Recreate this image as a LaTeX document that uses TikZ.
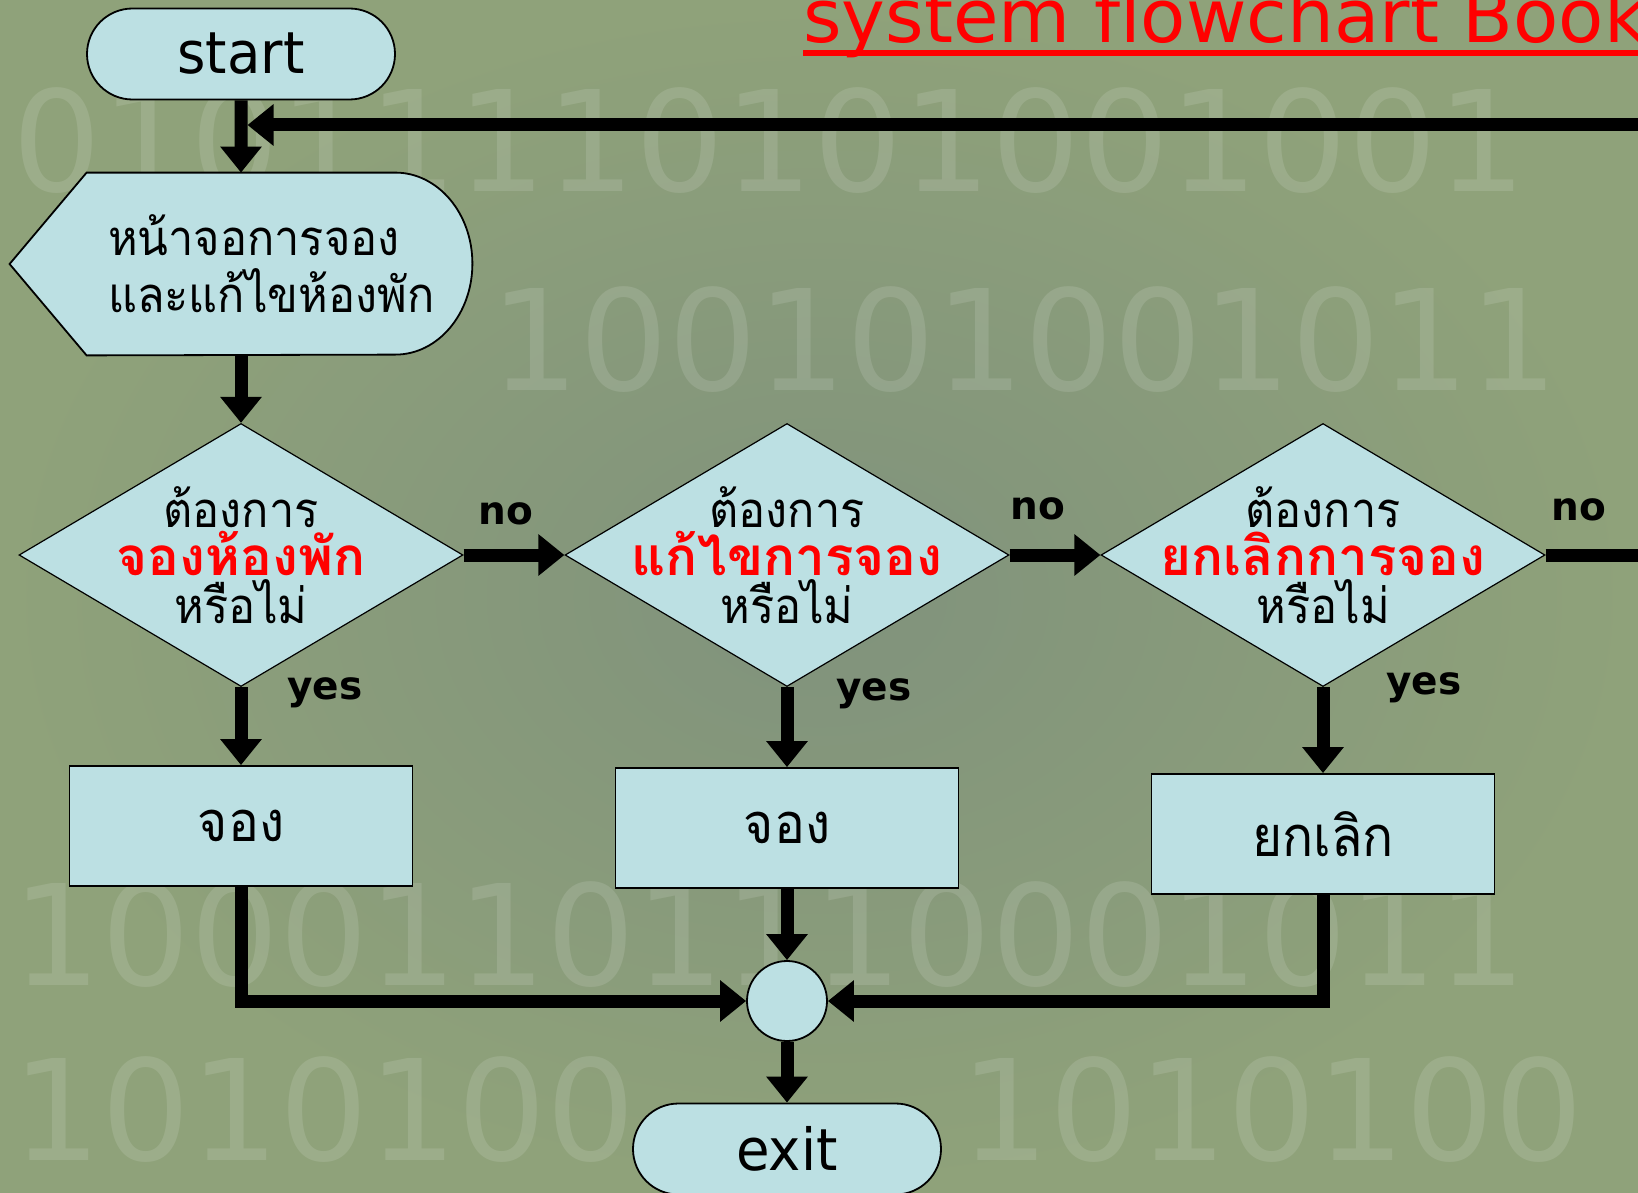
\documentclass[tikz,border=0pt]{standalone}
\usepackage{fontspec}
\setmainfont{DejaVu Sans}
\newfontfamily\thaifont[Script=Thai, FakeStretch=0.92, BoldFeatures={FakeStretch=1.0}]{Loma}
\newfontfamily\termfont[FakeStretch=0.94]{DejaVu Sans}
\usetikzlibrary{shapes, arrows.meta, positioning}

\definecolor{cyanfill}{RGB}{188,224,227}
\definecolor{bgouter}{RGB}{143,162,122}
\definecolor{bginner}{RGB}{128,146,124}

\newcommand{\hot}[1]{{\color{red}\bfseries\fontsize{26.5pt}{24pt}\selectfont #1}}

\tikzstyle{->}    = [line width=6.5pt, -{Triangle[length=13pt,width=20pt]}]
\tikzstyle{term}  = [draw, rounded rectangle, fill=cyanfill, line width=0.9pt, minimum width=154pt, minimum height=45.5pt, inner sep=0pt, font=\termfont\fontsize{29pt}{34pt}\selectfont]
\tikzstyle{disp}  = [draw=none, minimum width=154pt, minimum height=91pt, inner sep=0pt]
\tikzstyle{q}     = [draw, diamond, fill=cyanfill, line width=0.6pt, minimum width=222pt, minimum height=131.5pt, inner sep=0pt]
\tikzstyle{box}   = [draw, rectangle, fill=cyanfill, line width=0.9pt, minimum width=171.5pt, minimum height=60pt, font=\thaifont\fontsize{28pt}{32pt}\selectfont]
\tikzstyle{o}     = [draw, circle, fill=cyanfill, line width=0.9pt, minimum size=40pt, inner sep=0pt]
\tikzstyle{th}    = [inner sep=0pt, align=center, font=\thaifont\fontsize{24.5pt}{24pt}\selectfont]
\tikzstyle{lbl}   = [inner sep=0pt, font=\bfseries\fontsize{19.5pt}{22pt}\selectfont]
\tikzstyle{bits}  = [anchor=west, inner sep=0pt, text=white, opacity=0.12, font=\fontsize{70pt}{70pt}\selectfont]

\begin{document}
\begin{tikzpicture}[x=0.5pt, y=-0.5pt]

% page and background
\useasboundingbox (0,0) rectangle (1638,1193);
\clip (0,0) rectangle (1638,1193);
\shade [inner color=bginner, outer color=bgouter] (0,0) rectangle (1638,1193);
\node [bits] (bitsa)  at (12,141)   {01011110101001001};
\node [bits] (bitsb)  at (490,340)  {100101001011};
\node [bits] (bitsc)  at (12,935)   {10001101110001011};
\node [bits] (bitsd)  at (12,1110)  {1010100};
\node [bits] (bitsd2) at (960,1110) {1010100};

% title
\node [anchor=base west, inner sep=0pt, text=red, font=\fontsize{37pt}{40pt}\selectfont] (title) at (803,43) {system flowchart Book};
\draw [red, line width=3pt] ([yshift=-5pt]title.base west) -- ([yshift=-5pt]title.base east);

%pivotal nodes
\node [term                               ]  (start) at (241,54) {start};
\node [disp, below of=start, node distance=105pt]  (disp) {};
\path [draw, fill=cyanfill, line width=0.9pt] (disp.north west) -- (disp.north east)
      arc [start angle=90, end angle=-90, x radius=38.5pt, y radius=45.5pt]
      -- (disp.south west) -- ([xshift=-38.5pt]disp.west) -- cycle;
\node [th, align=left, anchor=west, font=\thaifont\fontsize{24.5pt}{28.5pt}\selectfont] (disptext) at ([xshift=10.5pt]disp.west) {หน้าจอการจอง\\และแก้ไขห้องพัก};

% questions
\node [q, below of=disp, node distance=145.5pt]  (q1) {};
\node [q, right of=q1,   node distance=273pt  ]  (q2) {};
\node [q, right of=q2,   node distance=268pt  ]  (q3) {};
\node [th] (q1text) at (q1) {ต้องการ\\\hot{จองห้องพัก}\\หรือไม่};
\node [th] (q2text) at (q2) {ต้องการ\\\hot{แก้ไขการจอง}\\หรือไม่};
\node [th] (q3text) at (q3) {ต้องการ\\\hot{ยกเลิกการจอง}\\หรือไม่};

% answers
\node [box, below of=q1, node distance=135.5pt]  (b1) {จอง};
\node [box, below of=q2, node distance=136.5pt]  (b2) {จอง};
\node [box, below of=q3, node distance=139.5pt]  (b3) {ยกเลิก};

% merge and exit
\node [o,    below of=b2,    node distance=86.5pt]  (merge) {};
\node [term, below of=merge, node distance=74pt  ]  (exit) {exit};

% labels
\path (q1.east)  ++(42,-41) node [lbl] (no1)  {no};
\path (q2.east)  ++(28,-46) node [lbl] (no2)  {no};
\path (q3.east)  ++(33,-45) node [lbl] (no3)  {no};
\path (q1.south) ++(84,6)   node [lbl] (yes1) {yes};
\path (q2.south) ++(87,7)   node [lbl] (yes2) {yes};
\path (q3.south) ++(101,1)  node [lbl] (yes3) {yes};

% flow
\path [->] (start)       edge (disp.north)
           (disp.south)  edge (q1.north)
           (q1.east)     edge (q2.west)
           (q2.east)     edge (q3.west)
           (q1.south)    edge (b1.north)
           (q2.south)    edge (b2.north)
           (q3.south)    edge (b3.north)
           (b2.south)    edge (merge.north)
           (merge.south) edge (exit.north);

\draw [->] (b1.south) |- (merge.west);
\draw [->] (b3.south) |- (merge.east);

% back to the screen
\coordinate (fb) at (start.south |- 0,125);
\draw [->] (q3.east) -- ++(160,0) |- ([xshift=3.25pt]fb);

\end{tikzpicture}
\end{document}
